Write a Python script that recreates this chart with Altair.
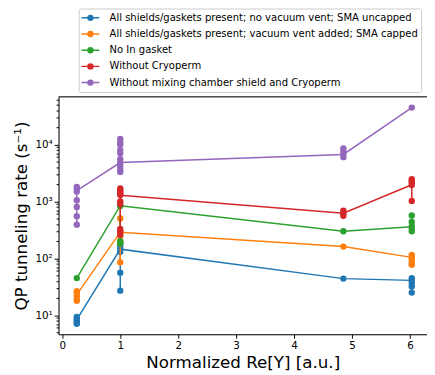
import altair as alt
import pandas as pd

SERIES = [
    "All shields/gaskets present; no vacuum vent; SMA uncapped",
    "All shields/gaskets present; vacuum vent added; SMA capped",
    "No In gasket",
    "Without Cryoperm",
    "Without mixing chamber shield and Cryoperm",
]
COLORS = ["#1f77b4", "#ff7f0e", "#2ca02c", "#d62728", "#9467bd"]
X_POS = [0.25, 1.0, 4.85, 6.03]

# measured rates at each X_POS (one list per position)
BLUE_PTS = [[9.3, 8.6, 8.0, 7.5, 7.1], [190, 170, 150, 130, 56, 27], [44], [45, 41, 37, 32, 25]]
ORANGE_PTS = [[26.5, 24.5, 22.5, 20, 18], [500, 290, 250, 200, 85], [161], [115, 108, 100, 90, 80, 77]]
GREEN_PTS = [[45], [830, 200, 180], [299], [565, 435, 365, 330, 299]]
RED_PTS = [[], [1700, 1600, 1500, 1400, 1300, 1000, 900, 330, 300, 260], [690, 620, 560], [2450, 2300, 2150, 1950, 1020]]
PURPLE_PTS = [[1800, 1650, 1500, 1050, 800, 550, 390],
              [12500, 11000, 10000, 8000, 7000, 5500, 4800, 4200, 3600, 3300],
              [8500, 7500, 6800, 6000], [44500]]

# central value drawn by the connecting line
BLUE_LINE = [8.4, 145, 44, 41]
ORANGE_LINE = [23, 288, 161, 104]
GREEN_LINE = [45, 840, 299, 360]
RED_LINE = [None, 1285, 620, 1960]
PURPLE_LINE = [1550, 4820, 6700, 44500]

Y_TICKS = [k * 10 ** e for e in range(0, 5) for k in range(1, 10) if 4.63 <= k * 10 ** e <= 68900]
X_TICKS = [0, 1, 2, 3, 4, 5, 6]

all_pts = [BLUE_PTS, ORANGE_PTS, GREEN_PTS, RED_PTS, PURPLE_PTS]
all_lines = [BLUE_LINE, ORANGE_LINE, GREEN_LINE, RED_LINE, PURPLE_LINE]

pt_rows, ln_rows = [], []
for s, pts, ln in zip(SERIES, all_pts, all_lines):
    for xp, vals in zip(X_POS, pts):
        for v in vals:
            pt_rows.append({"series": s, "x": xp, "value": v})
    for xp, v in zip(X_POS, ln):
        if v is not None:
            ln_rows.append({"series": s, "x": xp, "value": v})
pts_df = pd.DataFrame(pt_rows)
ln_df = pd.DataFrame(ln_rows)

FONT = "DejaVu Sans"
W, H = 375.5, 242

# legend glyph: a short line with a dot in the middle
SYMBOL = ("M-1.65,0H1.65"
          "M-0.455,0A0.455,0.455,0,1,1,0.455,0A0.455,0.455,0,1,1,-0.455,0Z")

legend = alt.Legend(
    title=None, orient="none", legendX=20.5, legendY=-90,
    symbolType=SYMBOL, symbolSize=121, symbolStrokeWidth=1.5, symbolOpacity=1,
    symbolOffset=2.5,
    labelFont=FONT, labelFontSize=10.2, labelColor="#000000", labelLimit=500,
    labelOffset=13, padding=3, rowPadding=3.5,
    strokeColor="#cccccc", fillColor="white", cornerRadius=2,
)
color = alt.Color("series:N", scale=alt.Scale(domain=SERIES, range=COLORS), legend=legend)

xenc = alt.X("x:Q", scale=alt.Scale(domain=[-0.065, 6.293], nice=False, zero=False),
             axis=alt.Axis(values=X_TICKS, title="Normalized Re[Y] [a.u.]", grid=False,
                           labelFontSize=10.5, labelFont=FONT, labelColor="#000",
                           tickSize=4, tickColor="#000", domainColor="#000",
                           titleFont=FONT, titleFontSize=17, titleFontWeight="normal",
                           titleColor="#000", titleY=29, titleBaseline="middle", labelPadding=2))
yscale = alt.Scale(type="log", domain=[4.63, 68900], nice=False)
yaxis = alt.Axis(values=Y_TICKS, grid=False, title="QP tunneling rate (s⁻¹)",
                 labelExpr="datum.value == 10 ? '10¹' : datum.value == 100 ? '10²' : datum.value == 1000 ? '10³' : datum.value == 10000 ? '10⁴' : ''",
                 tickSize={"condition": {"test": "indexof([10,100,1000,10000], datum.value) >= 0", "value": 4.5}, "value": 2.5},
                 tickColor="#000", domainColor="#000", labelFontSize=10.5, labelFont=FONT,
                 labelColor="#000", labelPadding=2,
                 titleFont=FONT, titleFontSize=17, titleFontWeight="normal", titleColor="#000",
                 titleX=-38, titleY=H / 2, titleBaseline="middle", titleAngle=270)

layers = []
for s in SERIES:
    line = alt.Chart(ln_df).transform_filter(alt.datum.series == s).mark_line(strokeWidth=1.5).encode(
        x=xenc, y=alt.Y("value:Q", scale=yscale, axis=yaxis), color=color)
    rule = alt.Chart(pts_df).transform_filter(alt.datum.series == s).mark_rule(strokeWidth=1.5).encode(
        x=xenc, y=alt.Y("min(value):Q", scale=yscale, axis=yaxis), y2=alt.Y2("max(value)"), color=color)
    pts = alt.Chart(pts_df).transform_filter(alt.datum.series == s).mark_circle(size=42, opacity=1).encode(
        x=xenc, y=alt.Y("value:Q", scale=yscale, axis=yaxis), color=color)
    layers += [line, rule, pts]

top = alt.Chart(alt.Data(values=[{"a": 1}])).mark_rule(color="#000", strokeWidth=1).encode(
    x=alt.value(0), x2=alt.value(W), y=alt.value(0))
layers.append(top)

chart = alt.layer(*layers).properties(
    width=W, height=H,
    autosize=alt.AutoSizeParams(type="none"),
    padding={"left": 51.5, "top": 87, "right": 0, "bottom": 38},
).configure_view(stroke=None).configure(background="white")

chart.save("out.html", embed_options={"renderer": "svg", "actions": False})
